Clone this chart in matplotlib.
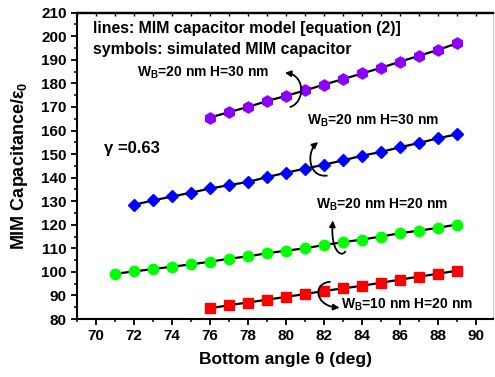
import matplotlib
matplotlib.use("Agg")
import matplotlib.pyplot as plt
import numpy as np
from matplotlib.ticker import MultipleLocator
from matplotlib.bezier import BezierSegment

plt.rcParams['font.family'] = ['Liberation Sans', 'DejaVu Sans']
plt.rcParams['font.weight'] = 'bold'
plt.rcParams['mathtext.fontset'] = 'custom'
plt.rcParams['mathtext.rm'] = 'Liberation Sans:bold'
plt.rcParams['mathtext.bf'] = 'Liberation Sans:bold'
plt.rcParams['mathtext.it'] = 'Liberation Sans:bold'

# bottom angle (deg) and capacitance / eps0
theta_w20_h30 = list(range(76, 90))
cap_w20_h30 = [165.5, 167.8, 170.0, 172.5, 174.7, 177.0, 179.5, 181.8,
               184.2, 186.6, 189.2, 191.7, 194.2, 197.0]

theta_w20_h30b = list(range(72, 90))
cap_w20_h30b = [128.5, 130.3, 132.0, 133.6, 135.4, 136.8, 138.2, 140.2,
                142.1, 143.8, 145.5, 147.3, 149.3, 150.9, 152.9, 154.7,
                156.7, 158.4]

theta_w20_h20 = list(range(71, 90))
cap_w20_h20 = [99.2, 100.2, 101.2, 102.2, 103.2, 104.3, 105.6, 106.6,
               107.9, 109.0, 110.0, 111.4, 112.6, 113.7, 115.0, 116.4,
               117.5, 118.7, 120.1]

theta_w10_h20 = list(range(76, 90))
cap_w10_h20 = [84.5, 85.9, 87.0, 88.2, 89.4, 90.6, 91.9, 93.0, 94.1,
               95.4, 96.7, 98.0, 99.2, 100.5]

# curved pointer arrows (tail, ctrl, ctrl, head) in data units
arrow_purple = [(80.20, 169.9), (81.04, 172.0), (81.04, 184.3), (79.94, 184.5)]
arrow_blue = [(82.19, 140.9), (81.14, 139.7), (81.04, 151.6), (81.69, 155.1)]
arrow_green = [(83.14, 108.9), (82.93, 105.6), (82.30, 109.0), (82.47, 121.8)]
arrow_red = [(82.35, 95.8), (81.35, 95.4), (81.51, 84.9), (82.82, 84.8)]

fig = plt.figure(figsize=(4.95, 3.77), dpi=100)
ax = fig.add_axes([0.1556, 0.1538, 0.8404, 0.8125])

# model lines + simulated symbols
ax.plot(theta_w20_h30, cap_w20_h30, color='black', lw=1.6, zorder=2)
ax.plot(theta_w20_h30, cap_w20_h30, 'h', color='#8B00FF', ms=8, zorder=3)

ax.plot(theta_w20_h30b, cap_w20_h30b, color='black', lw=1.6, zorder=2)
ax.plot(theta_w20_h30b, cap_w20_h30b, 'D', color='#0000FF', ms=6.5, zorder=3)

ax.plot(theta_w20_h20, cap_w20_h20, color='black', lw=1.6, zorder=2)
ax.plot(theta_w20_h20, cap_w20_h20, 'o', color='#00FF00', ms=7.5, zorder=3)

ax.plot(theta_w10_h20, cap_w10_h20, color='black', lw=1.6, zorder=2)
ax.plot(theta_w10_h20, cap_w10_h20, 's', color='#FF0000', ms=7, zorder=3)

ax.set_xlim(69, 90.9)
ax.set_ylim(80, 210)
ax.xaxis.set_major_locator(MultipleLocator(2))
ax.xaxis.set_minor_locator(MultipleLocator(1))
ax.yaxis.set_major_locator(MultipleLocator(10))
ax.yaxis.set_minor_locator(MultipleLocator(5))
ax.tick_params(which='major', direction='out', length=4, width=1.3,
               labelsize=11, top=False, right=False)
ax.tick_params(which='minor', direction='out', length=2.5, width=1.1,
               top=False, right=False)
secx = ax.secondary_xaxis('top')
secx.xaxis.set_major_locator(MultipleLocator(1))
secx.tick_params(direction='in', length=2.5, width=1, labeltop=False)
secx.spines['top'].set_linewidth(1.6)

for side in ['left', 'bottom']:
    ax.spines[side].set_linewidth(1.5)
ax.spines['top'].set_linewidth(1.6)
ax.spines['right'].set_color('#cccccc')
ax.spines['right'].set_linewidth(0.8)

ax.set_xlabel('Bottom angle θ (deg)', fontsize=12.5, fontweight='bold', labelpad=6)
ax.set_ylabel('MIM Capacitance/ε$_0$', fontsize=13, fontweight='bold', labelpad=8)

ax.text(69.84, 203.1, 'lines: MIM capacitor model [equation (2)]',
        fontsize=11.4, va='center', ha='left')
ax.text(69.84, 194.5, 'symbols: simulated MIM capacitor',
        fontsize=11.4, va='center', ha='left')
ax.text(70.42, 152.4, 'γ =0.63', fontsize=12, va='center', ha='left')

lab_kw = dict(fontsize=10, va='center', ha='left')
ax.text(72.15, 184.6, 'W$_\\mathregular{B}$=20 nm H=30 nm', **lab_kw)
ax.text(81.1, 164.3, 'W$_\\mathregular{B}$=20 nm H=30 nm', **lab_kw)
ax.text(81.6, 128.6, 'W$_\\mathregular{B}$=20 nm H=20 nm', **lab_kw)
ax.text(82.9, 85.9, 'W$_\\mathregular{B}$=10 nm H=20 nm', **lab_kw)

for pts in [arrow_purple, arrow_blue, arrow_green, arrow_red]:
    curve = BezierSegment(np.array(pts))(np.linspace(0, 1, 40))
    ax.plot(curve[:-2, 0], curve[:-2, 1], color='black', lw=1.3,
            zorder=4, solid_capstyle='butt')
    ax.annotate('', xy=curve[-1], xytext=curve[-4],
                arrowprops=dict(arrowstyle='-|>', color='black', lw=1.2,
                                mutation_scale=9, shrinkA=0, shrinkB=0),
                zorder=4)

fig.savefig('out.png', dpi=100)
